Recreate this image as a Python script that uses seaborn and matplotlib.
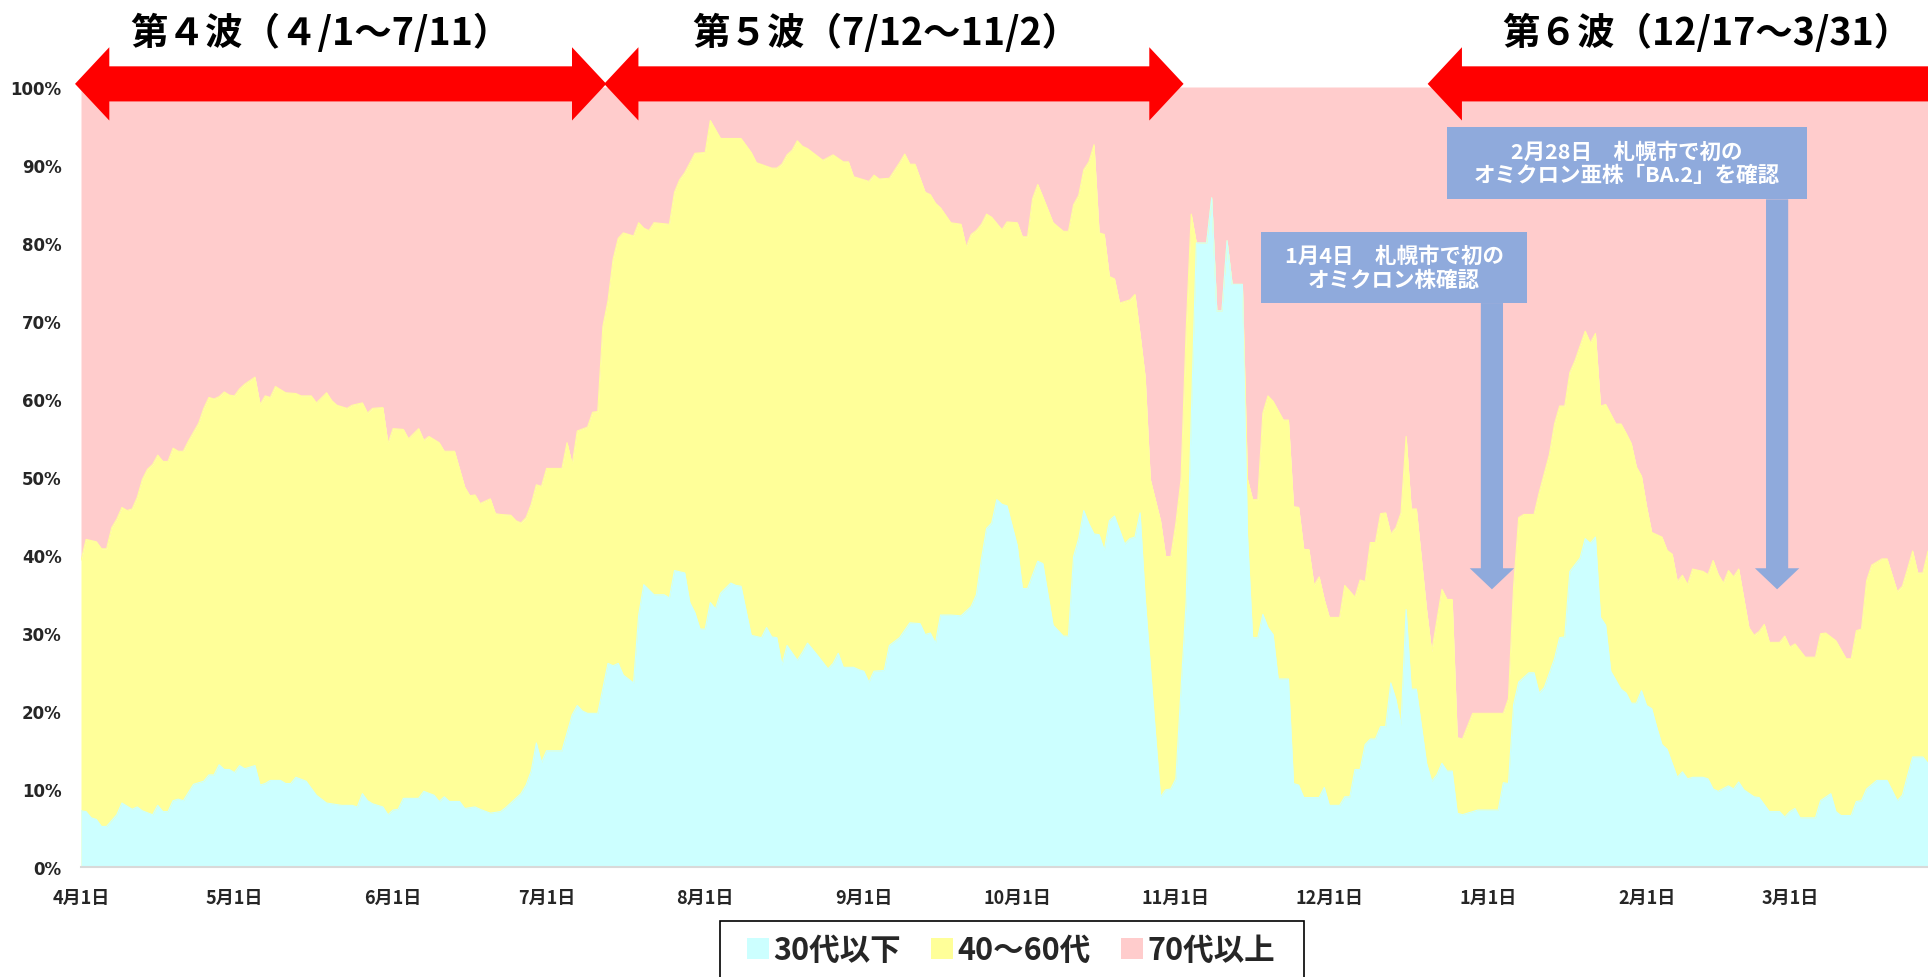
import matplotlib
matplotlib.use("Agg")
import matplotlib.pyplot as plt
import matplotlib.dates as mdates
from matplotlib.patches import Patch, Polygon, Rectangle
from matplotlib.font_manager import FontProperties
import pandas as pd
import seaborn as sns

# m/d dates: April-December are 2021, January-March are 2022
# share of cases aged 30s and under (%)
young_dates = [
    "4/1", "4/2", "4/3", "4/4", "4/5", "4/6", "4/8", "4/9", "4/11", "4/12", "4/13", "4/15", "4/16", "4/17", "4/18", "4/19", "4/20", "4/21", "4/23", "4/24", "4/25", "4/26", "4/27", "4/28", "4/29", "4/30",
    "5/1", "5/2", "5/3", "5/5", "5/6", "5/7", "5/8", "5/10", "5/11", "5/12", "5/13", "5/15", "5/17", "5/18", "5/19", "5/22", "5/24", "5/25", "5/26", "5/27", "5/28", "5/30", "5/31",
    "6/1", "6/2", "6/3", "6/6", "6/7", "6/9", "6/10", "6/11", "6/12", "6/14", "6/15", "6/17", "6/18", "6/20", "6/22", "6/23", "6/24", "6/26", "6/27", "6/28", "6/29", "6/30",
    "7/1", "7/4", "7/6", "7/7", "7/8", "7/9", "7/11", "7/13", "7/14", "7/15", "7/16", "7/18", "7/19", "7/20", "7/22", "7/24", "7/25", "7/26", "7/28", "7/29", "7/30", "7/31",
    "8/1", "8/2", "8/3", "8/4", "8/6", "8/7", "8/8", "8/10", "8/12", "8/13", "8/14", "8/15", "8/16", "8/17", "8/19", "8/20", "8/21", "8/23", "8/25", "8/26", "8/27", "8/28", "8/30", "8/31",
    "9/1", "9/2", "9/3", "9/5", "9/6", "9/8", "9/10", "9/12", "9/13", "9/14", "9/15", "9/16", "9/18", "9/20", "9/22", "9/23", "9/24", "9/25", "9/26", "9/27", "9/28", "9/29",
    "10/1", "10/2", "10/3", "10/5", "10/6", "10/8", "10/10", "10/11", "10/12", "10/13", "10/14", "10/15", "10/16", "10/17", "10/18", "10/19", "10/20", "10/22", "10/23", "10/24", "10/25", "10/26", "10/28", "10/29", "10/30", "10/31",
    "11/1", "11/2", "11/3", "11/4", "11/5", "11/7", "11/8", "11/9", "11/10", "11/11", "11/12", "11/14", "11/15", "11/16", "11/17", "11/18", "11/19", "11/20", "11/21", "11/23", "11/24", "11/25", "11/26", "11/29", "11/30",
    "12/1", "12/3", "12/4", "12/5", "12/6", "12/7", "12/8", "12/9", "12/10", "12/11", "12/12", "12/13", "12/14", "12/15", "12/16", "12/17", "12/18", "12/20", "12/21", "12/22", "12/23", "12/24", "12/25", "12/26", "12/27", "12/28", "12/30",
    "1/3", "1/4", "1/5", "1/6", "1/7", "1/9", "1/10", "1/11", "1/12", "1/14", "1/15", "1/16", "1/17", "1/19", "1/20", "1/21", "1/22", "1/23", "1/24", "1/25", "1/27", "1/28", "1/29", "1/30", "1/31",
    "2/1", "2/2", "2/3", "2/4", "2/5", "2/7", "2/8", "2/9", "2/10", "2/12", "2/13", "2/14", "2/15", "2/17", "2/18", "2/19", "2/20", "2/22", "2/23", "2/25", "2/27", "2/28",
    "3/1", "3/2", "3/3", "3/6", "3/7", "3/9", "3/10", "3/11", "3/13", "3/14", "3/15", "3/16", "3/18", "3/20", "3/22", "3/23", "3/24", "3/25", "3/27", "3/28",
]
young_pct = [
    7.2, 7.1, 6.3, 6.1, 5.2, 5.2, 6.7, 8.2, 7.4, 7.7, 7.2, 6.7, 7.9, 7.1, 7.1, 8.5, 8.7, 8.5, 10.6, 10.8, 11.0, 11.8, 11.8, 13.1, 12.5, 12.5,
    12.1, 13.0, 12.6, 13.0, 10.5, 10.7, 11.1, 11.1, 10.7, 10.7, 11.5, 11.0, 9.2, 8.7, 8.2, 7.9, 7.9, 7.7, 9.4, 8.5, 8.1, 7.7, 6.7,
    7.3, 7.4, 8.8, 8.8, 9.7, 9.2, 8.4, 9.0, 8.4, 8.4, 7.5, 7.7, 7.4, 6.9, 7.1, 7.6, 8.2, 9.4, 10.5, 12.3, 15.9, 13.4,
    14.9, 14.9, 19.5, 20.7, 20.0, 19.7, 19.7, 26.1, 25.8, 26.1, 24.6, 23.6, 32.3, 36.2, 34.9, 34.9, 34.5, 38.0, 37.7, 33.9, 32.6, 30.5,
    30.5, 33.9, 33.1, 35.1, 36.4, 36.1, 36.0, 29.7, 29.4, 30.7, 29.5, 29.4, 25.9, 28.4, 26.5, 27.5, 28.7, 27.1, 25.4, 26.1, 27.4, 25.6, 25.6, 25.3,
    25.1, 23.7, 25.1, 25.2, 28.4, 29.4, 31.3, 31.2, 29.8, 30.0, 28.7, 32.3, 32.3, 32.2, 33.4, 34.9, 39.5, 43.4, 44.1, 47.1, 46.5, 46.3,
    41.2, 35.7, 35.7, 39.2, 38.9, 31.0, 29.6, 29.6, 39.8, 42.1, 45.7, 44.0, 42.7, 42.6, 40.6, 44.4, 45.0, 41.4, 42.1, 42.3, 45.4, 34.5, 17.2, 9.0, 9.9, 10.0,
    11.3, 22.8, 33.9, 57.5, 80.0, 80.0, 85.8, 71.3, 71.3, 80.3, 74.7, 74.7, 42.5, 29.4, 29.4, 32.4, 30.7, 29.8, 24.1, 24.1, 10.7, 10.5, 8.9, 8.9, 10.2,
    7.9, 7.9, 9.0, 9.0, 12.5, 12.5, 15.7, 16.4, 16.4, 18.0, 18.0, 23.6, 21.5, 18.2, 33.0, 22.8, 22.8, 13.3, 11.0, 11.8, 13.3, 12.3, 12.3, 6.9, 6.7, 6.9, 7.3,
    7.3, 10.8, 10.7, 20.8, 23.7, 24.9, 24.9, 22.3, 23.0, 26.7, 29.4, 29.5, 37.9, 39.6, 42.1, 41.5, 42.3, 32.0, 31.0, 25.1, 22.8, 22.3, 21.0, 21.0, 22.6,
    20.7, 20.3, 17.9, 15.7, 15.1, 11.5, 12.2, 11.3, 11.5, 11.5, 11.3, 10.0, 9.7, 10.4, 10.0, 10.9, 9.9, 9.0, 8.9, 7.1, 7.1, 6.4,
    7.1, 7.5, 6.3, 6.3, 8.5, 9.4, 7.1, 6.6, 6.6, 8.4, 8.5, 10.0, 11.1, 11.1, 8.5, 9.2, 11.7, 14.1, 14.1, 13.3,
]

# cumulative share of cases aged 60s and under (30s-and-under + 40s-60s, %)
upto60s_dates = [
    "4/1", "4/2", "4/4", "4/5", "4/6", "4/7", "4/8", "4/9", "4/10", "4/11", "4/12", "4/13", "4/14", "4/15", "4/16", "4/17", "4/18", "4/19", "4/20", "4/21", "4/22", "4/24", "4/25", "4/26", "4/27", "4/28", "4/29", "4/30",
    "5/1", "5/2", "5/3", "5/5", "5/6", "5/7", "5/8", "5/9", "5/11", "5/13", "5/14", "5/16", "5/17", "5/19", "5/20", "5/21", "5/23", "5/24", "5/26", "5/27", "5/28", "5/30", "5/31",
    "6/1", "6/3", "6/4", "6/6", "6/7", "6/8", "6/10", "6/11", "6/13", "6/15", "6/16", "6/17", "6/18", "6/20", "6/21", "6/22", "6/24", "6/25", "6/26", "6/27", "6/28", "6/29", "6/30",
    "7/1", "7/4", "7/5", "7/6", "7/7", "7/9", "7/10", "7/11", "7/12", "7/13", "7/14", "7/15", "7/16", "7/18", "7/19", "7/20", "7/21", "7/22", "7/25", "7/26", "7/27", "7/28", "7/30",
    "8/1", "8/2", "8/4", "8/8", "8/10", "8/11", "8/14", "8/15", "8/16", "8/17", "8/18", "8/19", "8/20", "8/21", "8/23", "8/24", "8/26", "8/28", "8/29", "8/30",
    "9/1", "9/2", "9/3", "9/4", "9/6", "9/8", "9/9", "9/10", "9/11", "9/13", "9/14", "9/15", "9/16", "9/18", "9/20", "9/21", "9/22", "9/23", "9/24", "9/25", "9/26", "9/28", "9/29",
    "10/1", "10/2", "10/3", "10/4", "10/5", "10/6", "10/8", "10/10", "10/11", "10/12", "10/13", "10/14", "10/15", "10/16", "10/17", "10/18", "10/19", "10/20", "10/21", "10/23", "10/24", "10/25", "10/26", "10/27", "10/29", "10/30", "10/31",
    "11/1", "11/2", "11/3", "11/4", "11/5", "11/7", "11/8", "11/9", "11/10", "11/11", "11/12", "11/14", "11/15", "11/16", "11/17", "11/18", "11/19", "11/20", "11/22", "11/23", "11/24", "11/25", "11/26", "11/27", "11/28", "11/29", "11/30",
    "12/1", "12/3", "12/4", "12/6", "12/7", "12/8", "12/9", "12/10", "12/11", "12/12", "12/13", "12/14", "12/15", "12/16", "12/17", "12/18", "12/20", "12/21", "12/23", "12/24", "12/25", "12/26", "12/27", "12/29",
    "1/4", "1/5", "1/6", "1/7", "1/8", "1/10", "1/11", "1/13", "1/14", "1/15", "1/16", "1/17", "1/18", "1/20", "1/21", "1/22", "1/23", "1/24", "1/26", "1/27", "1/28", "1/29", "1/30", "1/31",
    "2/1", "2/2", "2/4", "2/5", "2/6", "2/7", "2/8", "2/9", "2/10", "2/12", "2/13", "2/14", "2/15", "2/16", "2/17", "2/18", "2/19", "2/21", "2/22", "2/23", "2/24", "2/25", "2/27", "2/28",
    "3/1", "3/2", "3/4", "3/6", "3/7", "3/8", "3/10", "3/12", "3/13", "3/14", "3/15", "3/16", "3/17", "3/19", "3/20", "3/22", "3/23", "3/24", "3/25", "3/26", "3/27", "3/28",
]
upto60s_pct = [
    39.3, 42.0, 41.7, 40.8, 40.8, 43.5, 44.6, 46.1, 45.7, 45.9, 47.4, 49.7, 51.0, 51.6, 52.8, 52.0, 52.0, 53.7, 53.3, 53.3, 54.6, 56.9, 58.8, 60.2, 60.0, 60.3, 60.9, 60.5,
    60.4, 61.3, 61.9, 62.8, 59.3, 60.4, 60.2, 61.6, 60.8, 60.7, 60.4, 60.4, 59.5, 60.8, 59.8, 59.2, 58.8, 59.2, 59.5, 58.2, 58.8, 58.9, 54.3,
    56.2, 56.1, 54.9, 56.2, 54.7, 55.2, 54.4, 53.3, 53.3, 48.7, 47.6, 47.7, 46.6, 47.2, 45.3, 45.2, 45.1, 44.4, 44.1, 44.8, 46.5, 49.0, 48.8,
    51.1, 51.1, 54.4, 51.6, 55.9, 56.4, 58.3, 58.4, 69.3, 72.6, 77.9, 80.6, 81.3, 80.9, 82.6, 81.9, 81.6, 82.6, 82.4, 86.5, 88.1, 89.0, 91.5,
    91.6, 95.7, 93.4, 93.4, 91.6, 90.3, 89.6, 89.6, 90.1, 91.3, 91.9, 93.1, 92.4, 92.1, 91.1, 90.6, 91.3, 90.4, 90.4, 88.5,
    88.1, 87.9, 88.7, 88.2, 88.3, 90.3, 91.4, 90.1, 90.1, 86.5, 86.2, 85.1, 84.5, 82.6, 82.4, 79.5, 81.1, 81.6, 82.4, 83.7, 83.3, 81.7, 82.7,
    82.6, 80.8, 80.8, 85.7, 87.5, 85.9, 82.6, 81.5, 81.5, 84.9, 86.1, 89.4, 90.4, 92.6, 81.3, 81.1, 75.7, 75.4, 72.3, 72.7, 73.4, 68.3, 62.8, 49.7, 44.4, 39.8, 39.8,
    44.1, 49.7, 68.7, 83.7, 80.0, 80.0, 85.8, 71.3, 71.3, 80.3, 74.7, 74.7, 49.7, 47.1, 47.1, 58.2, 60.4, 59.7, 57.3, 57.3, 46.2, 46.1, 40.7, 40.7, 36.1, 37.2, 34.3,
    32.0, 32.0, 36.1, 34.6, 36.8, 36.6, 41.6, 41.6, 45.3, 45.4, 42.7, 43.5, 45.4, 55.2, 45.9, 45.9, 33.0, 27.6, 35.6, 34.3, 34.3, 16.6, 16.4, 19.7,
    19.7, 21.6, 35.9, 44.8, 45.2, 45.2, 48.0, 52.9, 56.8, 59.1, 59.1, 63.4, 64.9, 68.7, 67.2, 68.4, 59.1, 59.3, 56.8, 56.8, 55.6, 54.3, 51.3, 50.1,
    46.2, 42.9, 42.3, 40.6, 40.1, 36.6, 37.4, 36.2, 38.2, 37.9, 37.5, 39.3, 37.5, 36.4, 38.0, 37.2, 38.2, 30.7, 29.7, 30.2, 31.1, 28.8, 28.8, 29.6,
    28.2, 28.6, 26.9, 26.9, 29.9, 30.0, 29.0, 26.7, 26.7, 30.3, 30.5, 36.7, 38.7, 39.5, 39.5, 35.3, 36.0, 38.2, 40.5, 37.7, 37.7, 40.5,
]

series_labels = ["30代以下", "40～60代", "70代以上"]
series_colors = ["#CCFFFF", "#FFFF99", "#FFCCCC"]

tick_dates = ["4/1", "5/1", "6/1", "7/1", "8/1", "9/1", "10/1", "11/1", "12/1", "1/1", "2/1", "3/1"]
tick_labels = ["4月1日", "5月1日", "6月1日", "7月1日", "8月1日", "9月1日", "10月1日", "11月1日", "12月1日", "1月1日", "2月1日", "3月1日"]

wave_titles = ["第４波（４/1～7/11）", "第５波（7/12～11/2）", "第６波（12/17～3/31）"]
# arrow extents as drawn on the picture (tip to tip)
wave_arrow_start = ["2021-03-30 20:00", "2021-07-12 06:00", "2021-12-20 05:00"]
wave_arrow_end = ["2021-07-12 16:00", "2021-11-02 12:00", "2022-04-12"]

notes = ["1月4日　札幌市で初の\nオミクロン株確認", "2月28日　札幌市で初の\nオミクロン亜株「BA.2」を確認"]


def to_date(md):
    m, d = (int(v) for v in md.split("/"))
    return pd.Timestamp(2021 if m >= 4 else 2022, m, d)


assert len(young_dates) == len(young_pct)
assert len(upto60s_dates) == len(upto60s_pct)
young_x = [to_date(s) for s in young_dates]
upto60s_x = [to_date(s) for s in upto60s_dates]

sns.set_style("white")
plt.rcParams["font.family"] = ["Noto Sans CJK JP", "DejaVu Sans"]

W, H = 1928, 978
fig = plt.figure(figsize=(W / 100, H / 100), dpi=100)
ax = fig.add_axes([81 / W, 1 - 868 / H, 1847 / W, 780 / H])

# 100% stacked area: 70s+ on top, then 40-60s, then 30s and under
ax.fill_between(upto60s_x, upto60s_pct, 100, color=series_colors[2], lw=0)
ax.fill_between(upto60s_x, 0, upto60s_pct, color=series_colors[1], lw=0)
sns.lineplot(x=upto60s_x, y=upto60s_pct, ax=ax, color=series_colors[1], lw=0.8)
ax.fill_between(young_x, 0, young_pct, color=series_colors[0], lw=0)
sns.lineplot(x=young_x, y=young_pct, ax=ax, color=series_colors[0], lw=0.8)

ax.set_xlim(to_date("4/1"), to_date("3/28"))
ax.set_ylim(0, 100)
ax.set_xlabel("")
ax.set_ylabel("")

ax.set_xticks([to_date(s) for s in tick_dates])
ax.set_xticklabels(tick_labels, fontsize=13, fontweight="bold")
ax.tick_params(axis="x", length=6, width=1.2, color="#C8C8C8", pad=9)
ax.set_yticks(range(0, 101, 10))
ax.set_yticklabels([f"{v}%" for v in range(0, 101, 10)], fontsize=12,
                   fontweight="bold", family="DejaVu Sans")
ax.tick_params(axis="y", length=0, pad=14)
for side in ["top", "right", "left"]:
    ax.spines[side].set_visible(False)
ax.spines["bottom"].set_color("#D9D9D9")
ax.spines["bottom"].set_linewidth(1.5)
ax.grid(False)

# wave arrows (double headed, centred on the 100% line)
yc, shaft, head, head_len = 100.4, 2.25, 4.7, 6.7
for s, e in zip(wave_arrow_start, wave_arrow_end):
    x0 = mdates.date2num(pd.Timestamp(s))
    x1 = mdates.date2num(pd.Timestamp(e))
    pts = [(x0, yc), (x0 + head_len, yc + head), (x0 + head_len, yc + shaft),
           (x1 - head_len, yc + shaft), (x1 - head_len, yc + head), (x1, yc),
           (x1 - head_len, yc - head), (x1 - head_len, yc - shaft),
           (x0 + head_len, yc - shaft), (x0 + head_len, yc - head)]
    ax.add_patch(Polygon(pts, closed=True, color="#FF0000", lw=0,
                         clip_on=False, zorder=5))

for title, xc in zip(wave_titles, [320, 886, 1707]):
    fig.text(xc / W, 1 - 33 / H, title, ha="center", va="center",
             fontsize=27, fontweight="bold", color="black")

# annotation boxes with down arrows (axes fraction coordinates)
note_boxes = [(0.639, 0.723, 0.144, 0.091), (0.7396, 0.856, 0.1949, 0.093)]
note_arrow_x = [0.7639, 0.9183]
blue = "#8FAADC"
for text, (bx, by, bw, bh), axc in zip(notes, note_boxes, note_arrow_x):
    ax.add_patch(Rectangle((bx, by), bw, bh, transform=ax.transAxes,
                           color=blue, lw=0, zorder=6, clip_on=False))
    ax.text(bx + bw / 2, by + bh / 2, text, transform=ax.transAxes,
            ha="center", va="center", color="white", fontsize=15.5,
            fontweight="bold", linespacing=1.15, zorder=7)
    sw, hw, base, tip = 0.0060, 0.0120, 0.383, 0.356
    pts = [(axc - sw, by), (axc + sw, by), (axc + sw, base), (axc + hw, base),
           (axc, tip), (axc - hw, base), (axc - sw, base)]
    ax.add_patch(Polygon(pts, closed=True, transform=ax.transAxes,
                         color=blue, lw=0, zorder=6))

# legend: frame runs off the bottom of the picture like the original
fig.patches.append(Rectangle((720 / W, -0.05), 584 / W, 0.05 + 1 - 922 / H,
                             transform=fig.transFigure, facecolor="white",
                             edgecolor="black", lw=1.2))
handles = [Patch(facecolor=c, edgecolor="none") for c in series_colors]
fig.legend(handles, series_labels, loc="center",
           bbox_to_anchor=(1011 / W, 1 - 951 / H), ncol=3, frameon=False,
           prop=FontProperties(family=["Noto Sans CJK JP", "DejaVu Sans"],
                               weight="bold", size=22),
           handlelength=0.7, handleheight=0.7, handletextpad=0.15,
           columnspacing=1.0, borderpad=0, borderaxespad=0)

fig.savefig("out.png", dpi=100)
